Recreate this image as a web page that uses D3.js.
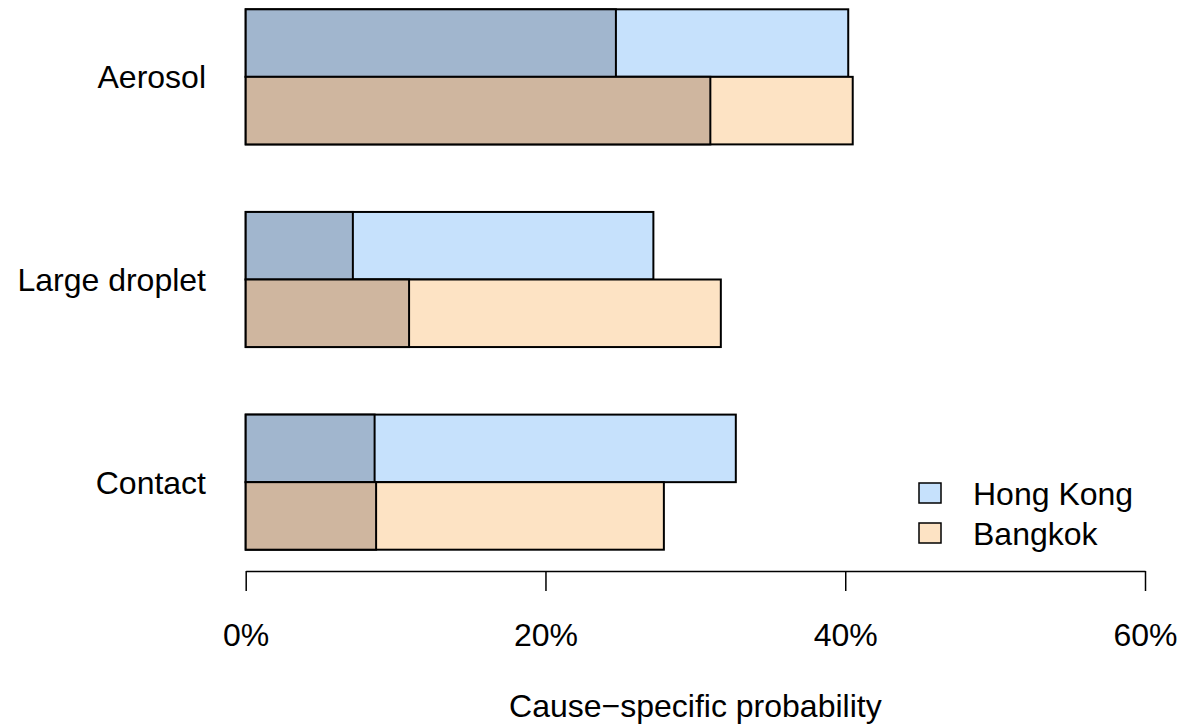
<!DOCTYPE html>
<html>
<head>
<meta charset="utf-8">
<script src="https://cdn.jsdelivr.net/npm/d3@7"></script>
<style>
  body { margin: 0; background: #fff; }
  text { font-family: "Liberation Sans", Arial, Helvetica, sans-serif; fill: #000; }
</style>
</head>
<body>
<div id="chart"></div>
<script>
// categories, top to bottom
let routes = ["Aerosol", "Large droplet", "Contact"];
let cities = ["Hong Kong", "Bangkok"];

// total cause-specific probability (light bar), per route
let hkTotal = [0.402, 0.272, 0.327];
let bkTotal = [0.405, 0.317, 0.279];
// inner (darker) part, per route
let hkInner = [0.247, 0.0715, 0.086];
let bkInner = [0.310, 0.109, 0.087];

let xTicks = [0, 0.2, 0.4, 0.6];

let lightColor = { "Hong Kong": "#C6E1FC", "Bangkok": "#FDE3C4" };
let darkColor = { "Hong Kong": "#A1B6CE", "Bangkok": "#CFB69F" };

////////////////////////////////////////////////////////////////////////
// svg canvas
let width = 1181;
let height = 727;

let svg = d3.select("#chart")
  .append("svg")
  .attr("width", width).attr("height", height);

// build rows from the arrays
let rows = [];
routes.forEach(function (r, i) {
  rows.push({ route: r, city: "Hong Kong", total: hkTotal[i], inner: hkInner[i] });
  rows.push({ route: r, city: "Bangkok", total: bkTotal[i], inner: bkInner[i] });
});

////////////////////////////////////////////////////////////////////////
// scales
let xScale = d3.scaleLinear()
  .domain([0, 0.6])
  .range([245.7, 1145]);

let yScale = d3.scaleBand()
  .domain(routes)
  .range([9.3, 549.7])
  .paddingInner(1 / 3)
  .paddingOuter(0);

let subScale = d3.scaleBand()
  .domain(cities)
  .range([0, yScale.bandwidth()]);

// full (light) bars
svg.append("g")
  .selectAll(".bar")
  .data(rows)
  .enter()
  .append("rect")
  .attr("class", "bar")
  .attr("x", xScale(0))
  .attr("y", d => yScale(d.route) + subScale(d.city))
  .attr("width", d => xScale(d.total) - xScale(0))
  .attr("height", subScale.bandwidth())
  .attr("fill", d => lightColor[d.city])
  .attr("stroke", "#000")
  .attr("stroke-width", 2);

// inner (dark) bars over them
svg.append("g")
  .selectAll(".inner")
  .data(rows)
  .enter()
  .append("rect")
  .attr("class", "inner")
  .attr("x", xScale(0))
  .attr("y", d => yScale(d.route) + subScale(d.city))
  .attr("width", d => xScale(d.inner) - xScale(0))
  .attr("height", subScale.bandwidth())
  .attr("fill", d => darkColor[d.city])
  .attr("stroke", "#000")
  .attr("stroke-width", 2);

// route labels
svg.selectAll(".label")
  .data(routes)
  .enter()
  .append("text")
  .classed("label", true)
  .attr("x", 206)
  .attr("y", d => yScale(d) + yScale.bandwidth() / 2 + 11.5)
  .attr("text-anchor", "end")
  .attr("font-size", 32)
  .text(d => d);

////////////////////////////////////////////////////////////////////////
// x axis
let xAxis = d3.axisBottom(xScale)
  .tickValues(xTicks)
  .tickFormat(d3.format(".0%"))
  .tickSize(20)
  .tickSizeOuter(0)
  .tickPadding(32);

let gx = svg.append("g")
  .attr("transform", "translate(0,571)")
  .call(xAxis);

gx.select(".domain").attr("stroke", "#000").attr("stroke-width", 1.5);
gx.selectAll(".tick line").attr("stroke", "#000").attr("stroke-width", 1.5);
gx.selectAll(".tick text")
  .attr("font-size", 32)
  .attr("font-family", "Liberation Sans, Arial, Helvetica, sans-serif")
  .attr("fill", "#000");

svg.append("text")
  .attr("x", (xScale(0) + xScale(0.6)) / 2)
  .attr("y", 717)
  .attr("text-anchor", "middle")
  .attr("font-size", 32)
  .text("Cause\u2212specific probability");

////////////////////////////////////////////////////////////////////////
// legend
let legend = svg.append("g")
  .selectAll(".legend")
  .data(cities)
  .enter()
  .append("g")
  .attr("class", "legend")
  .attr("transform", (d, i) => "translate(0," + (493 + i * 40) + ")");

legend.append("rect")
  .attr("x", 919)
  .attr("y", -10)
  .attr("width", 22)
  .attr("height", 20)
  .attr("fill", d => lightColor[d])
  .attr("stroke", "#000")
  .attr("stroke-width", 1.5);

legend.append("text")
  .attr("x", 973)
  .attr("y", 11.5)
  .attr("font-size", 32)
  .text(d => d);
</script>
</body>
</html>
